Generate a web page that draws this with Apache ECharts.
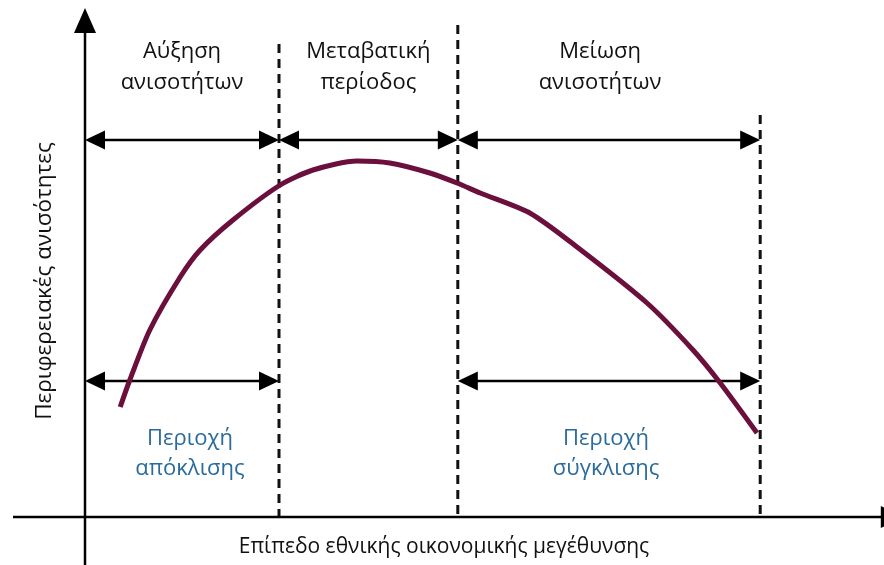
<!DOCTYPE html>
<html><head><meta charset="utf-8">
<script src="https://cdn.jsdelivr.net/npm/echarts@6/dist/echarts.min.js"></script>
<style>html,body{margin:0;padding:0;background:#fff}#c{width:884px;height:565px}</style>
</head><body><div id="c"></div>
<script>
// ---- data ----
const boundaries = [0, 24.25, 46.6, 84.4];          // y-axis and the three dashed lines (x)
const dashedTop = [94.6, 98.4, 80.4];                // top of each dashed line (y)
const upperRowY = 75.4;
const lowerRowY = 27.2;
const upperSpans = [[0, 24.25], [24.25, 46.6], [46.6, 84.4]];
const lowerSpans = [[0, 24.25], [46.6, 84.4]];
const phaseLabels = [['Αύξηση', 'ανισοτήτων'], ['Μεταβατική', 'περίοδος'], ['Μείωση', 'ανισοτήτων']];
const regionLabels = [['Περιοχή', 'απόκλισης'], ['Περιοχή', 'σύγκλισης']];
const xAxisName = 'Επίπεδο εθνικής οικονομικής μεγέθυνσης';
const yAxisName = 'Περιφερειακές ανισότητες';
const curveX = [4.4, 5.6, 8.1, 11.9, 14.4, 18.5, 24.4, 28.5, 34, 38.1, 43.1, 46.5, 49.4, 55.6, 61.5, 70.25, 76, 79.4, 84];
const curveY = [22, 27.4, 37.4, 48, 53.4, 59.4, 66.4, 69.4, 71.2, 70.8, 68.8, 66.8, 64.8, 60.8, 54, 42.8, 33.4, 26.8, 16.8];
const axisXRange = [-9, 102.6];
const axisYRange = [-9.6, 101.8];

// ---- chart ----
const FONT = 'Open Sans';
const chart = echarts.init(document.getElementById('c'), null, {renderer: 'canvas'});

function arrowHead(tip, dir, len, half) {
  const bx = tip[0] - dir[0] * len, by = tip[1] - dir[1] * len;
  const nx = -dir[1], ny = dir[0];
  return {type: 'polygon', shape: {points: [tip, [bx + nx * half, by + ny * half], [bx - nx * half, by - ny * half]]},
    style: {fill: '#000'}};
}

const spanData = upperSpans.map(s => [s[0], s[1], upperRowY]).concat(lowerSpans.map(s => [s[0], s[1], lowerRowY]));

const option = {
  animation: false,
  grid: {left: 0, right: 0, top: 0, bottom: 0},
  xAxis: {type: 'value', min: -85 / 8, max: 799 / 8, show: false},
  yAxis: {type: 'value', min: -48 / 5, max: 517 / 5, show: false},
  series: [
    { // axes
      type: 'custom', silent: true, clip: false, z: 5,
      data: [[0]],
      renderItem: function (params, api) {
        const x0 = api.coord([axisXRange[0], 0]), x1 = api.coord([axisXRange[1], 0]);
        const y0 = api.coord([0, axisYRange[0]]), y1 = api.coord([0, axisYRange[1]]);
        return {type: 'group', children: [
          {type: 'line', shape: {x1: x0[0], y1: x0[1], x2: x1[0] - 20, y2: x1[1]}, style: {stroke: '#000', lineWidth: 2.5}},
          arrowHead(x1, [1, 0], 25, 11),
          {type: 'line', shape: {x1: y0[0], y1: y0[1], x2: y1[0], y2: y1[1] + 20}, style: {stroke: '#000', lineWidth: 2.5}},
          arrowHead(y1, [0, -1], 25, 11)
        ]};
      }
    },
    { // dashed lines
      type: 'custom', silent: true, z: 3,
      data: boundaries.slice(1).map((b, i) => [b, dashedTop[i]]),
      renderItem: function (params, api) {
        const a = api.coord([api.value(0), 0]), b = api.coord([api.value(0), api.value(1)]);
        return {type: 'line', shape: {x1: b[0], y1: b[1], x2: a[0], y2: a[1]},
          style: {stroke: '#111', lineWidth: 3, lineDash: [9, 6]}};
      }
    },
    { // double arrows
      type: 'custom', silent: true, z: 4,
      data: spanData,
      renderItem: function (params, api) {
        const a = api.coord([api.value(0), api.value(2)]), b = api.coord([api.value(1), api.value(2)]);
        return {type: 'group', children: [
          {type: 'line', shape: {x1: a[0] + 10, y1: a[1], x2: b[0] - 10, y2: b[1]}, style: {stroke: '#000', lineWidth: 2.5}},
          arrowHead(a, [-1, 0], 20, 9.5),
          arrowHead(b, [1, 0], 20, 9.5)
        ]};
      }
    },
    { // curve
      type: 'line', smooth: 0.25, symbol: 'none', z: 6,
      data: curveX.map((x, i) => [x, curveY[i]]),
      lineStyle: {color: '#6b0f3c', width: 5, cap: 'butt'}
    },
    { // phase labels + region labels
      type: 'custom', silent: true, z: 7,
      data: [[0]],
      renderItem: function (params, api) {
        const children = [];
        const phaseDx = [0, 0, -9];
        phaseLabels.forEach((lines, i) => {
          const c = api.coord([(boundaries[i] + boundaries[i + 1]) / 2, upperRowY]);
          lines.forEach((t, j) => children.push({type: 'text', x: c[0] + phaseDx[i], y: 52 + j * 31,
            style: {text: t, font: '22px "' + FONT + '"', fill: '#111', align: 'center', verticalAlign: 'middle'}}));
        });
        const regionIdx = [0, 2], regionDx = [8, -3];
        regionLabels.forEach((lines, i) => {
          const k = regionIdx[i];
          const c = api.coord([(boundaries[k] + boundaries[k + 1]) / 2, lowerRowY]);
          lines.forEach((t, j) => children.push({type: 'text', x: c[0] + regionDx[i], y: 439 + j * 30,
            style: {text: t, font: '22px "' + FONT + '"', fill: '#2a6b9c', align: 'center', verticalAlign: 'middle'}}));
        });
        children.push({type: 'text', x: 444, y: 547,
          style: {text: xAxisName, font: '21px "' + FONT + '"', fill: '#111', align: 'center', verticalAlign: 'middle'}});
        children.push({type: 'text', x: 45, y: 281, rotation: Math.PI / 2,
          style: {text: yAxisName, font: '22.5px "' + FONT + '"', fill: '#111', align: 'center', verticalAlign: 'middle'}});
        return {type: 'group', children: children};
      }
    }
  ]
};
chart.setOption(option);
</script>
</body></html>
